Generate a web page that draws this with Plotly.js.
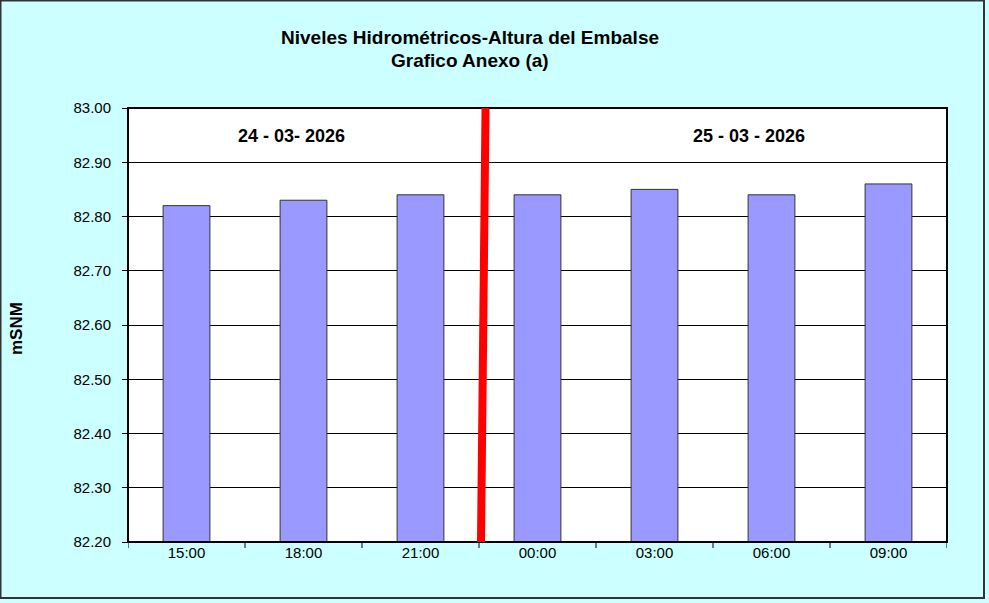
<!DOCTYPE html>
<html><head><meta charset="utf-8">
<script src="https://cdn.plot.ly/plotly-3.0.1.min.js"></script>
<style>
html,body{margin:0;padding:0;background:#000;}
#chart{width:989px;height:603px;}
</style></head>
<body><div id="chart"></div>
<script>
const categories = ["15:00","18:00","21:00","00:00","03:00","06:00","09:00"];
const levels = [82.82, 82.83, 82.84, 82.84, 82.85, 82.84, 82.86];
const dateLabels = ["24 - 03- 2026", "25 - 03 - 2026"];
const yTicks = [82.20,82.30,82.40,82.50,82.60,82.70,82.80,82.90,83.00];
const titleLines = ["Niveles Hidrométricos-Altura del Embalse", "Grafico Anexo (a)"];
const yTitle = "mSNM";

const W=989,H=603, L=128, R=42, T=108, B=61;
const pw=W-L-R, ph=H-T-B;
const px=x=>(x-L)/pw, py=y=>(H-B-y)/ph;

const trace = {
  type:'bar', x:[0,1,2,3,4,5,6], y:levels.map(v=>v-82.2), base:82.2,
  width:0.4,
  marker:{color:'#9999FF', line:{color:'#333333', width:1}},
  hoverinfo:'skip'
};
const font='"Liberation Sans", Arial, sans-serif';
const ann=(text,x,y,size,extra)=>Object.assign({text:text, xref:'paper', yref:'paper', x:px(x), y:py(y),
  xanchor:'center', yanchor:'middle', showarrow:false, font:{size:size, family:font, color:'#000'}}, extra||{});
const layout = {
  width:W, height:H,
  margin:{l:L,r:R,t:T,b:B,pad:0},
  paper_bgcolor:'#CCFFFF', plot_bgcolor:'#FFFFFF',
  showlegend:false,
  font:{family:font, color:'#000', size:15},
  xaxis:{range:[-0.5,6.5], tickvals:[0,1,2,3,4,5,6], ticktext:categories,
    showgrid:false, zeroline:false, showline:false, ticks:'', fixedrange:true,
    tickfont:{size:15}},
  yaxis:{range:[82.2,83.0], tickvals:yTicks, ticktext:yTicks.map(v=>v.toFixed(2)),
    showgrid:true, gridcolor:'#000000', gridwidth:1, zeroline:false,
    ticks:'outside', ticklen:5, tickcolor:'#000', showline:false, ticklabelstandoff:8,
    tickfont:{size:15}, title:{text:''}},
  annotations:[
    ann('<b>'+titleLines[0]+'</b>', 470, 38, 19),
    ann('<b>'+titleLines[1]+'</b>', 470, 60, 19),
    ann('<b>'+dateLabels[0]+'</b>', 291, 136, 18),
    ann('<b>'+dateLabels[1]+'</b>', 749, 136, 18),
    ann('<b>'+yTitle+'</b>', 16, 328, 17, {textangle:-90})
  ],
  shapes:[]
};
for (let i=0;i<=7;i++){
  layout.shapes.push({type:'line', xref:'x', yref:'paper', x0:i-0.5, x1:i-0.5, y0:0, y1:-6/ph, line:{color:'#000',width:1}});
}
layout.shapes.push({type:'rect', xref:'paper', yref:'paper', x0:0, x1:1, y0:0, y1:1, line:{color:'#000', width:2}, layer:'above'});
layout.shapes.push({type:'line', xref:'x', yref:'y', x0:2.517, y0:82.2, x1:2.556, y1:83.0, line:{color:'#FF0000', width:8}, layer:'above'});
layout.shapes.push({type:'rect', xref:'paper', yref:'paper', x0:px(0.5), x1:px(984), y0:py(598), y1:py(0.5), line:{color:'#333', width:2}, layer:'above'});
Plotly.newPlot('chart',[trace],layout,{displayModeBar:false, staticPlot:true});
</script>
</body></html>
